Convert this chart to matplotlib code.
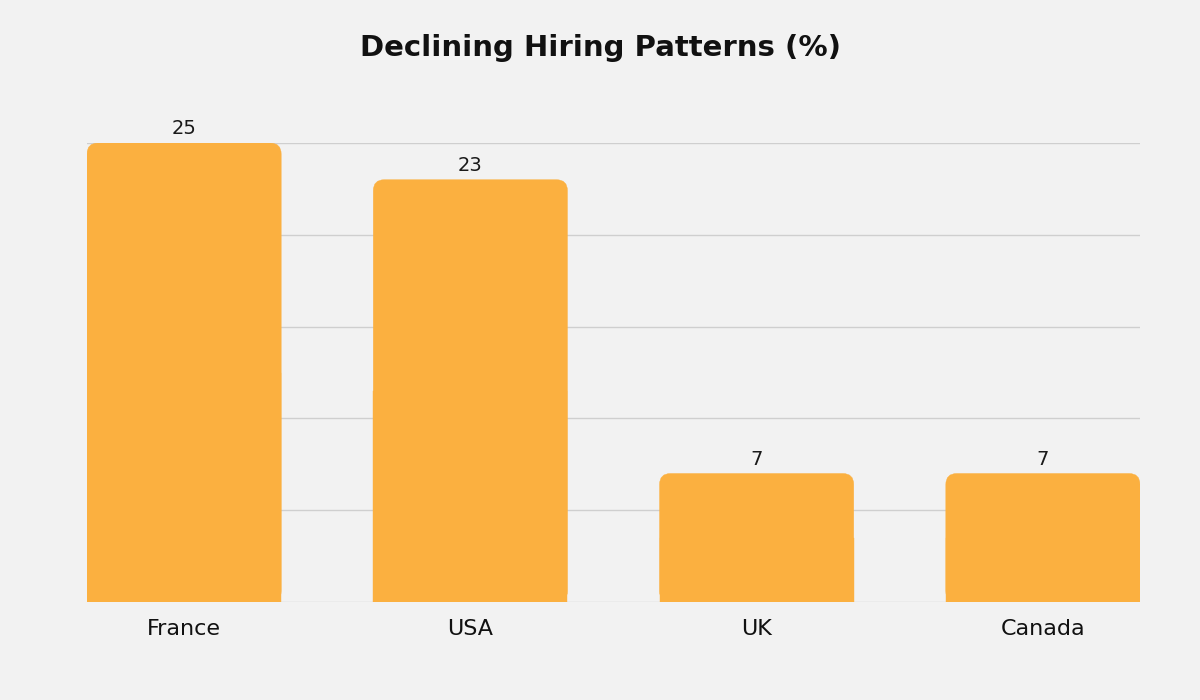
import matplotlib
matplotlib.use("Agg")
import matplotlib.pyplot as plt
from matplotlib.patches import FancyBboxPatch, Rectangle

countries = ["France", "USA", "UK", "Canada"]
values = [25, 23, 7, 7]

bg = "#f2f2f2"
bar_color = "#fbb040"

fig = plt.figure(figsize=(12, 7), dpi=100, facecolor=bg)
ax = fig.add_axes([87 / 1200, 1 - 602 / 700, 1053 / 1200, 459 / 700])
ax.set_facecolor(bg)

width = 194 / 286
ax.set_xlim(-width / 2, len(countries) - 1 + width / 2)
ax.set_ylim(0, 25)

# gridlines
for y in [0, 5, 10, 15, 20, 25]:
    ax.axhline(y, color="#cfcfcf", lw=1, zorder=0)

# data units per pixel, to keep the corner round
x_per_px = (ax.get_xlim()[1] - ax.get_xlim()[0]) / 1053
y_per_px = 25 / 459
r = 11 * x_per_px

for i, v in enumerate(values):
    x0 = i - width / 2
    box = FancyBboxPatch((x0, 0), width, v,
                         boxstyle=f"round,pad=0,rounding_size={r}",
                         mutation_aspect=y_per_px / x_per_px,
                         fc=bar_color, ec=bar_color, lw=0.3, zorder=2)
    ax.add_patch(box)
    # square off the bottom corners
    ax.add_patch(Rectangle((x0, 0), width, v / 2, fc=bar_color, ec=bar_color,
                           lw=0.3, zorder=2))
    ax.text(i, v + 0.25, str(v), ha="center", va="bottom", fontsize=14,
            color="#1a1a1a")

ax.set_xticks(range(len(countries)))
ax.set_xticklabels(countries, fontsize=16, color="#111111")
ax.tick_params(axis="x", length=0, pad=12)
ax.set_yticks([])
for s in ax.spines.values():
    s.set_visible(False)

fig.text(0.5, 1 - 48 / 700, "Declining Hiring Patterns (%)", ha="center", va="center",
         fontsize=21, fontweight="bold", color="#111111")

fig.savefig("out.png", dpi=100, facecolor=bg)
